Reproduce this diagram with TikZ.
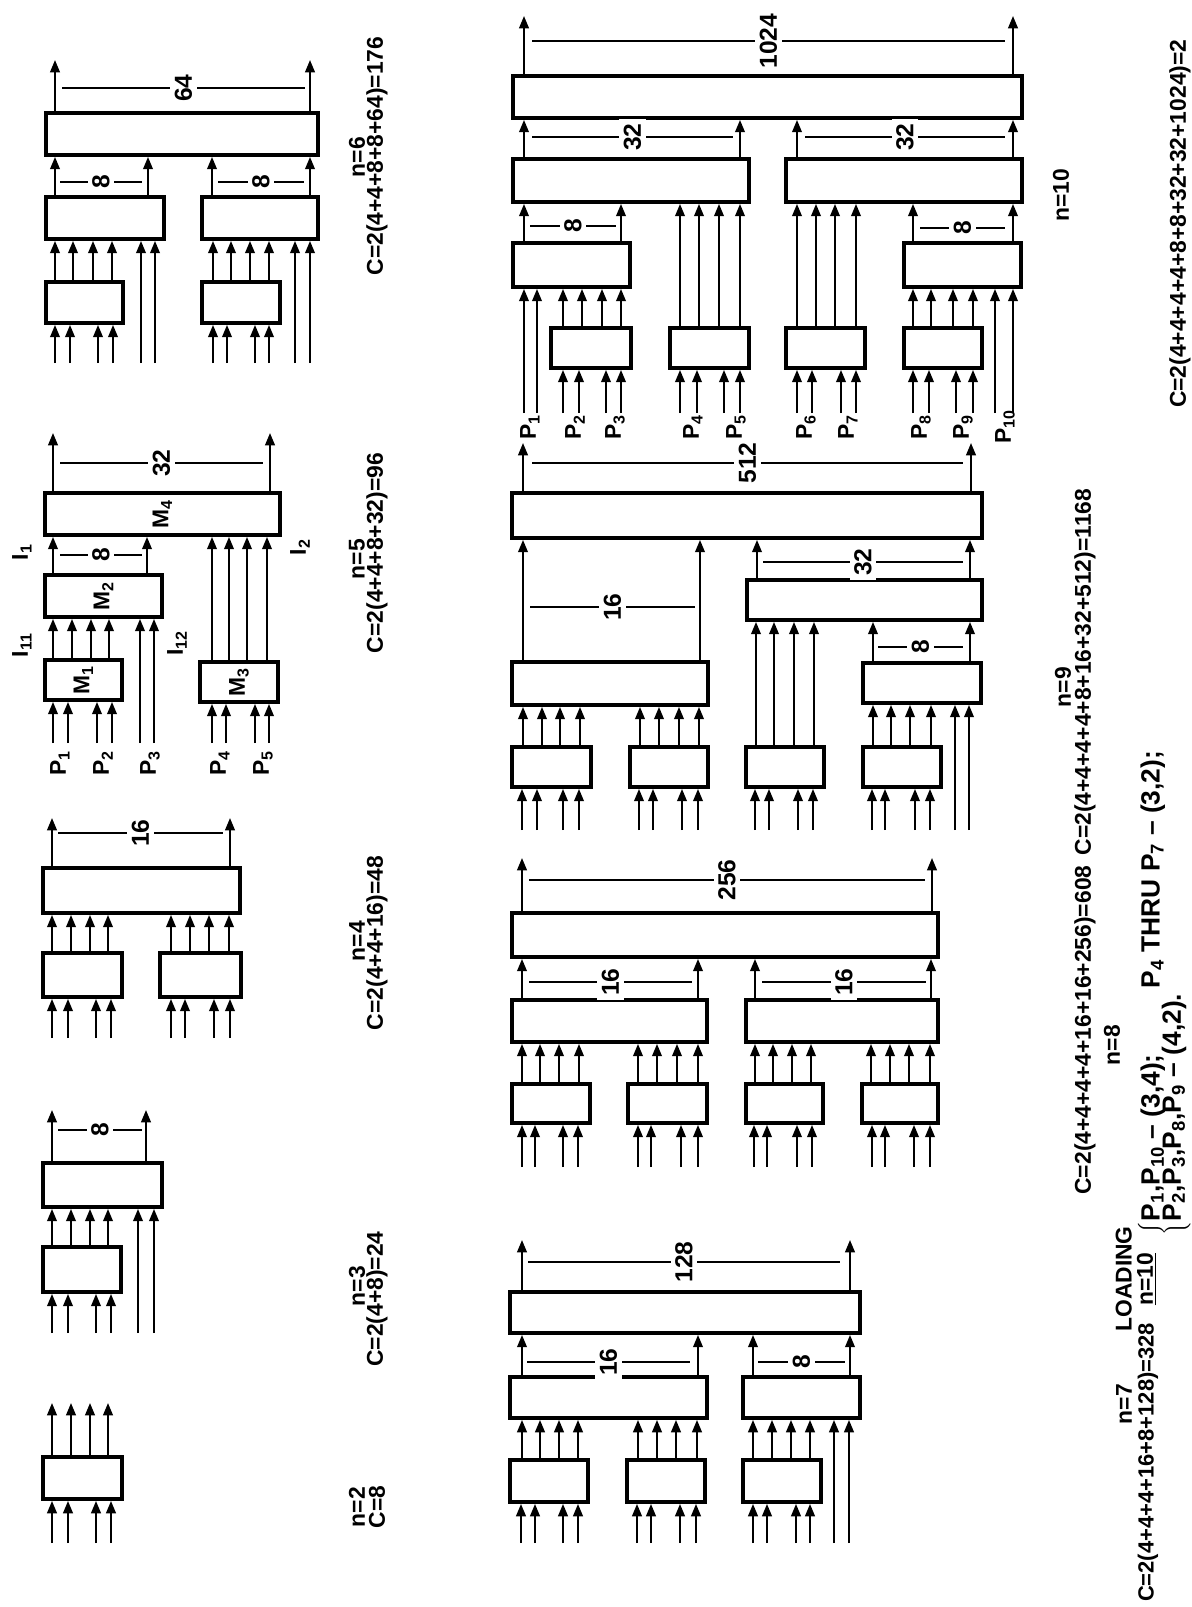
\documentclass[tikz,border=0pt]{standalone}
\usepackage{fontspec}
\setmainfont{Liberation Sans}
\usepackage{tikz}
\usetikzlibrary{arrows.meta}
\usetikzlibrary{fit}

% a box between two corners (scan pixels)
\newcommand{\blk}[3]{\node[blk, fit={(#2) (#3)}] (#1) {};}
% arrows from the top of one box into the bottom of the next
\newcommand{\wires}[3]{\foreach \x in {#3} \draw[sig] (#1.north -| \x,0) -- (#2.south -| \x,0);}
% arrows from a free end into the bottom of a box
\newcommand{\inwires}[3]{\foreach \x in {#3} \draw[sig] (\x,#2) -- (#1.south -| \x,0);}
% arrows out of the top of a box
\newcommand{\outwires}[3]{\foreach \x in {#3} \draw[sig] (#1.north -| \x,0) -- (\x,#2);}
% count line over a group of outputs
\newcommand{\cntline}[4]{\draw[dim] (#1,#3) -- node[cnt] {#4} (#2,#3);}

\begin{document}
\begin{tikzpicture}[x=0.02cm, y=-0.02cm,
  blk/.style={draw, line width=2.2pt, inner sep=0pt},
  sig/.style={line width=1.1pt, -{Triangle[length=7pt,width=5.5pt]}},
  dim/.style={line width=0.9pt},
  cnt/.style={fill=white, inner sep=2.5pt, rotate=90, font=\fontsize{14}{14}\selectfont\bfseries},
  lab/.style={rotate=90, inner sep=1pt, font=\fontsize{13}{15}\selectfont\bfseries},
  note/.style={rotate=90, inner sep=0pt, font=\fontsize{15}{17}\selectfont\bfseries}]

  \useasboundingbox (0,0) rectangle (1192,1607);

  % n=2
  \blk{a2}{43,1457}{122,1499}
  \inwires{a2}{1543}{52,68,96,111}
  \outwires{a2}{1403}{52,71,90,108}

  % n=3
  \blk{b3}{43,1163}{162,1207}
  \blk{a3}{43,1247}{121,1292}
  \inwires{a3}{1333}{52,68,96,111}
  \inwires{b3}{1333}{138,154}
  \wires{a3}{b3}{52,71,90,108}
  \outwires{b3}{1110}{52,146}
  \cntline{58}{142}{1130}{8}

  % n=4
  \blk{c4}{43,868}{240,913}
  \blk{a4}{43,953}{122,997}
  \blk{b4}{160,953}{241,997}
  \inwires{a4}{1038}{52,68,96,111}
  \inwires{b4}{1038}{171,185,214,230}
  \wires{a4}{c4}{52,71,90,108}
  \wires{b4}{c4}{171,190,209,229}
  \outwires{c4}{818}{52,230}
  \cntline{58}{223}{833}{16}

  % n=5
  \blk{m4}{45,493}{280,535}
  \blk{m2}{45,575}{162,617}
  \blk{m1}{45,660}{122,700}
  \blk{m3}{200,662}{278,702}
  \inwires{m1}{743}{53,68,97,112}
  \inwires{m2}{743}{140,154}
  \inwires{m3}{743}{212,226,255,269}
  \wires{m1}{m2}{53,72,91,109}
  \wires{m2}{m4}{53,147}
  \wires{m3}{m4}{212,229,247,267}
  \outwires{m4}{433}{53,270}
  \cntline{60}{142}{555}{8}
  \cntline{60}{263}{463}{32}
  \node[lab] (m1t) at (m1) {M\textsubscript{1}};
  \node[lab] (m2t) at (m2) {M\textsubscript{2}};
  \node[lab] (m3t) at (m3) {M\textsubscript{3}};
  \node[lab] (m4t) at (m4) {M\textsubscript{4}};
  \node[lab] (p1a) at (60,763) {P\textsubscript{1}};
  \node[lab] (p2a) at (103,763) {P\textsubscript{2}};
  \node[lab] (p3a) at (150,763) {P\textsubscript{3}};
  \node[lab] (p4a) at (220,763) {P\textsubscript{4}};
  \node[lab] (p5a) at (263,763) {P\textsubscript{5}};
  \node[lab] (i11) at (22,645) {I\textsubscript{11}};
  \node[lab] (i1) at (22,552) {I\textsubscript{1}};
  \node[lab] (i12) at (177,643) {I\textsubscript{12}};
  \node[lab] (i2) at (300,547) {I\textsubscript{2}};

  % n=6
  \blk{c6}{46,113}{318,155}
  \blk{b6l}{46,197}{164,239}
  \blk{b6r}{202,197}{318,239}
  \blk{a6l}{46,282}{123,323}
  \blk{a6r}{202,282}{280,323}
  \inwires{a6l}{363}{55,70,98,113}
  \inwires{a6r}{363}{213,227,255,269}
  \inwires{b6l}{363}{141,155}
  \inwires{b6r}{363}{295,310}
  \wires{a6l}{b6l}{55,73,93,112}
  \wires{a6r}{b6r}{213,231,250,269}
  \wires{b6l}{c6}{55,148}
  \wires{b6r}{c6}{212,310}
  \outwires{c6}{60}{55,310}
  \cntline{60}{142}{182}{8}
  \cntline{218}{304}{182}{8}
  \cntline{62}{305}{88}{64}

  % costs, first row
  \node[lab] (n2) at (357,1507) {n=2};
  \node[lab] (k2) at (377,1507) {C=8};
  \node[lab] (n3) at (357,1286) {n=3};
  \node[lab] (k3) at (377,1299) {C=2(4+8)=24};
  \node[lab] (n4) at (357,941) {n=4};
  \node[lab] (k4) at (377,943) {C=2(4+4+16)=48};
  \node[lab] (n5) at (357,559) {n=5};
  \node[lab] (k5) at (377,553) {C=2(4+4+8+32)=96};
  \node[lab] (n6) at (357,157) {n=6};
  \node[lab] (k6) at (377,156) {C=2(4+4+8+8+64)=176};

  % n=7
  \blk{d7}{510,1292}{860,1333}
  \blk{c7l}{510,1377}{707,1418}
  \blk{c7r}{743,1377}{860,1418}
  \blk{a7}{510,1460}{588,1502}
  \blk{b7}{627,1460}{705,1502}
  \blk{e7}{743,1460}{821,1502}
  \inwires{a7}{1543}{521,535,563,578}
  \inwires{b7}{1543}{637,651,680,696}
  \inwires{e7}{1543}{753,767,796,810}
  \inwires{c7r}{1543}{834,849}
  \wires{a7}{c7l}{522,540,559,578}
  \wires{b7}{c7l}{638,657,676,697}
  \wires{e7}{c7r}{753,772,791,810}
  \wires{c7l}{d7}{522,698}
  \wires{c7r}{d7}{753,850}
  \outwires{d7}{1240}{522,850}
  \cntline{527}{690}{1362}{16}
  \cntline{758}{845}{1362}{8}
  \cntline{528}{840}{1262}{128}

  % n=8
  \blk{d8}{512,913}{938,957}
  \blk{c8l}{512,1000}{707,1042}
  \blk{c8r}{746,1000}{938,1042}
  \blk{a8}{512,1084}{590,1123}
  \blk{b8}{628,1084}{707,1123}
  \blk{e8}{746,1084}{823,1123}
  \blk{f8}{862,1084}{938,1123}
  \inwires{a8}{1167}{522,535,563,578}
  \inwires{b8}{1167}{638,651,681,698}
  \inwires{e8}{1167}{754,767,797,812}
  \inwires{f8}{1167}{872,885,914,930}
  \wires{a8}{c8l}{522,540,559,579}
  \wires{b8}{c8l}{638,657,677,698}
  \wires{e8}{c8r}{755,773,792,811}
  \wires{f8}{c8r}{871,890,909,930}
  \wires{c8l}{d8}{522,698}
  \wires{c8r}{d8}{755,931}
  \outwires{d8}{858}{522,932}
  \cntline{529}{692}{982}{16}
  \cntline{762}{926}{982}{16}
  \cntline{529}{925}{880}{256}

  % n=9
  \blk{d9}{512,493}{982,538}
  \blk{c9l}{512,662}{708,705}
  \blk{c9r}{747,580}{982,620}
  \blk{g9}{863,663}{981,703}
  \blk{a9}{512,747}{591,787}
  \blk{b9}{630,747}{708,787}
  \blk{e9}{746,747}{824,787}
  \blk{f9}{863,747}{941,787}
  \inwires{a9}{830}{522,537,563,579}
  \inwires{b9}{830}{639,653,682,698}
  \inwires{e9}{830}{755,769,798,813}
  \inwires{f9}{830}{872,885,915,930}
  \inwires{g9}{830}{955,969}
  \wires{a9}{c9l}{523,542,560,580}
  \wires{b9}{c9l}{640,659,679,699}
  \wires{e9}{c9r}{756,774,794,814}
  \wires{f9}{g9}{873,891,910,931}
  \wires{g9}{c9r}{873,970}
  \wires{c9l}{d9}{523,700}
  \wires{c9r}{d9}{757,970}
  \outwires{d9}{443}{523,971}
  \cntline{530}{695}{607}{16}
  \cntline{878}{963}{647}{8}
  \cntline{763}{963}{562}{32}
  \cntline{532}{963}{463}{512}

  % n=10
  \blk{d10}{513,76}{1022,118}
  \blk{c10l}{513,159}{749,202}
  \blk{c10r}{786,159}{1022,202}
  \blk{g10l}{513,243}{630,287}
  \blk{g10r}{904,243}{1021,287}
  \blk{a10}{551,328}{631,368}
  \blk{b10}{670,328}{749,368}
  \blk{e10}{786,328}{865,368}
  \blk{f10}{904,328}{982,368}
  \inwires{g10l}{413}{524,537}
  \inwires{a10}{413}{563,579,606,621}
  \inwires{b10}{413}{680,697,724,740}
  \inwires{e10}{413}{797,812,841,856}
  \inwires{f10}{413}{913,929,956,973}
  \inwires{g10r}{413}{995,1013}
  \wires{a10}{g10l}{563,582,602,621}
  \wires{b10}{c10l}{680,699,719,740}
  \wires{e10}{c10r}{797,816,835,856}
  \wires{f10}{g10r}{913,931,953,973}
  \wires{g10l}{c10l}{524,621}
  \wires{g10r}{c10r}{913,1013}
  \wires{c10l}{d10}{524,740}
  \wires{c10r}{d10}{797,1013}
  \outwires{d10}{16}{524,1013}
  \cntline{530}{616}{226}{8}
  \cntline{920}{1005}{228}{8}
  \cntline{532}{733}{137}{32}
  \cntline{805}{1005}{137}{32}
  \cntline{532}{1005}{41}{1024}
  \node[lab] (q1) at (530,427) {P\textsubscript{1}};
  \node[lab] (q2) at (575,427) {P\textsubscript{2}};
  \node[lab] (q3) at (615,427) {P\textsubscript{3}};
  \node[lab] (q4) at (693,427) {P\textsubscript{4}};
  \node[lab] (q5) at (736,427) {P\textsubscript{5}};
  \node[lab] (q6) at (806,427) {P\textsubscript{6}};
  \node[lab] (q7) at (848,427) {P\textsubscript{7}};
  \node[lab] (q8) at (921,427) {P\textsubscript{8}};
  \node[lab] (q9) at (963,427) {P\textsubscript{9}};
  \node[lab] (q10) at (1005,427) {P\textsubscript{10}};

  % costs, second row
  \node[lab] (n7) at (1124,1404) {n=7};
  \node[lab, anchor=west, font=\fontsize{12.5}{15}\selectfont\bfseries] (k7) at (1148,1604) {C=2(4+4+4+16+8+128)=328};
  \node[lab] (n8) at (1112,1045) {n=8};
  \node[lab] (k8) at (1085,1030) {C=2(4+4+4+4+16+16+256)=608};
  \node[lab] (n9) at (1063,687) {n=9};
  \node[lab] (k9) at (1085,672) {C=2(4+4+4+4+8+16+32+512)=1168};
  \node[lab] (n10) at (1061,195) {n=10};
  \node[lab, anchor=west] (k10) at (1180,410) {C=2(4+4+4+4+8+8+32+32+1024)=2};

  % loading
  \node[lab] (load) at (1137,1279) {\begin{tabular}{@{}c@{}}LOADING\\[-3pt]\underline{n=10}\end{tabular}};
  \node[note, anchor=south west] (rule) at (1191,1236) {$\left\{\mbox{\begin{tabular}{@{}l@{}}P\textsubscript{1},P\textsubscript{10} -- (3,4);\hspace{2.5em}P\textsubscript{4} THRU P\textsubscript{7} -- (3,2);\\[-5pt]P\textsubscript{2},P\textsubscript{3},P\textsubscript{8},P\textsubscript{9} -- (4,2).\end{tabular}}\right.$};
\end{tikzpicture}
\end{document}
